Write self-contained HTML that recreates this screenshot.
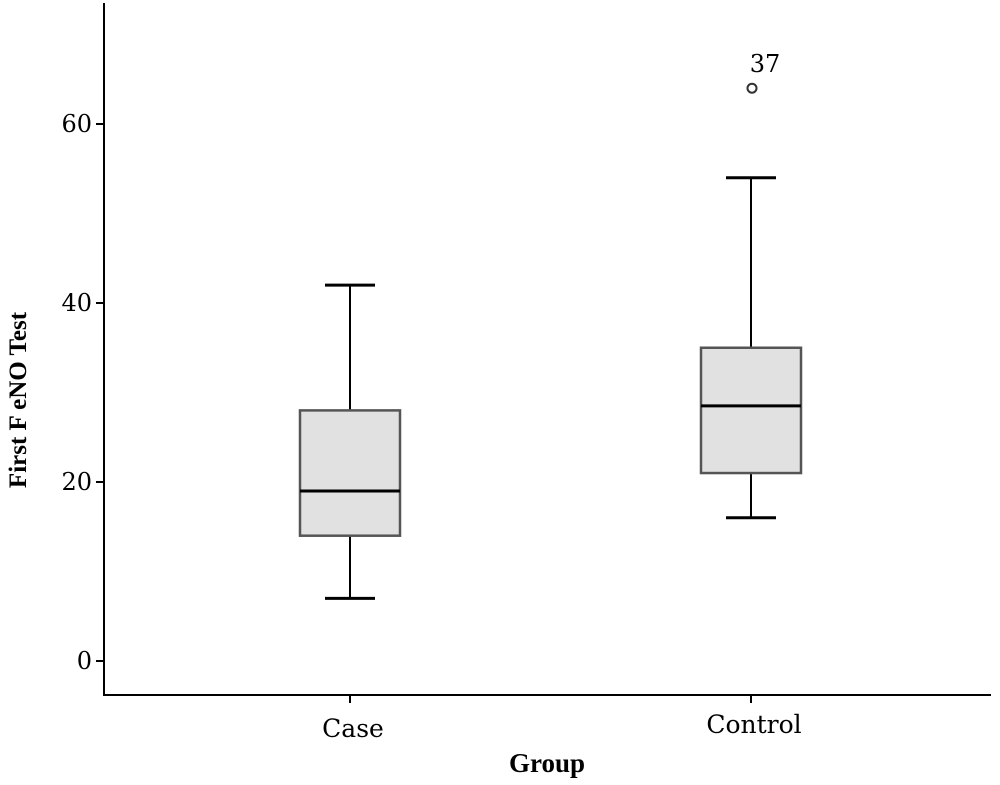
<!DOCTYPE html>
<html><head><meta charset="utf-8"><style>
body{margin:0;background:#fff;}
svg text{font-family:"DejaVu Serif","Liberation Serif",serif;}
</style></head><body>
<svg id="chart" width="1000" height="780" viewBox="0 0 1000 780" xmlns="http://www.w3.org/2000/svg">
<g id="axes"></g><g id="marks"></g>
<text transform="translate(26,400) rotate(-90)" text-anchor="middle" font-size="25" font-weight="bold" style="font-family:'Liberation Serif',serif">First F eNO Test</text>
<text x="547" y="772" text-anchor="middle" font-size="27" font-weight="bold" style="font-family:'Liberation Serif',serif">Group</text>
</svg>
<script>
const categories=["Case","Control"];
const whiskerLow=[7,16];
const q1=[14,21];
const median=[19,28.5];
const q3=[28,35];
const whiskerHigh=[42,54];
const outlierCat=[1];
const outlierVal=[64];
const outlierLabel=["37"];
const yTicks=[0,20,40,60];
const NS="http://www.w3.org/2000/svg";
const y=v=>661-v*8.95;
const x=i=>350+i*401;
const axes=document.getElementById('axes'),marks=document.getElementById('marks');
function mk(p,tag,attrs){const e=document.createElementNS(NS,tag);for(const k in attrs)e.setAttribute(k,attrs[k]);p.appendChild(e);return e;}
let e=mk(axes,'line',{x1:104,y1:3,x2:104,y2:696,stroke:'#000','stroke-width':2});


e=mk(axes,'line',{x1:103,y1:695,x2:991,y2:695,stroke:'#000','stroke-width':2});


yTicks.forEach(t=>{
 let l=mk(axes,'line',{x1:96,x2:104,y1:y(t),y2:y(t),stroke:'#000','stroke-width':2});
 
 
 let tx=mk(axes,'text',{x:92,y:y(t)+8,'text-anchor':'end','font-size':24});
 tx.textContent=t;
 
 
});
categories.forEach((c,i)=>{
 let l=mk(axes,'line',{x1:x(i),x2:x(i),y1:695,y2:703,stroke:'#000','stroke-width':2});
 
 
 let tx=mk(axes,'text',{x:x(i)+3,y:737+(i?-4:0),'text-anchor':'middle','font-size':25});
 tx.textContent=c;
 
 
 let w=mk(marks,'line',{x1:x(i),x2:x(i),y1:y(whiskerHigh[i]),y2:y(whiskerLow[i]),stroke:'#000','stroke-width':2});
 
 
 [whiskerLow[i],whiskerHigh[i]].forEach(v=>{
  let cap=mk(marks,'line',{x1:x(i)-25,x2:x(i)+25,y1:y(v),y2:y(v),stroke:'#000','stroke-width':3});
  
  
 });
 let b=mk(marks,'rect',{x:x(i)-50,y:y(q3[i]),width:100,height:y(q1[i])-y(q3[i]),fill:'#e1e1e1',stroke:'#555','stroke-width':2.5});
 
 
 let m=mk(marks,'line',{x1:x(i)-50,x2:x(i)+50,y1:y(median[i]),y2:y(median[i]),stroke:'#000','stroke-width':3});
 
 
});
outlierVal.forEach((v,k)=>{
 let c=mk(marks,'circle',{cx:x(outlierCat[k])+1,cy:y(v),r:4.5,fill:'#fff',stroke:'#333','stroke-width':2});
 
 
 let t=mk(marks,'text',{x:x(outlierCat[k])+14,y:y(v)-16,'text-anchor':'middle','font-size':24});
 t.textContent=outlierLabel[k];
 
 
});
</script>
</body></html>
